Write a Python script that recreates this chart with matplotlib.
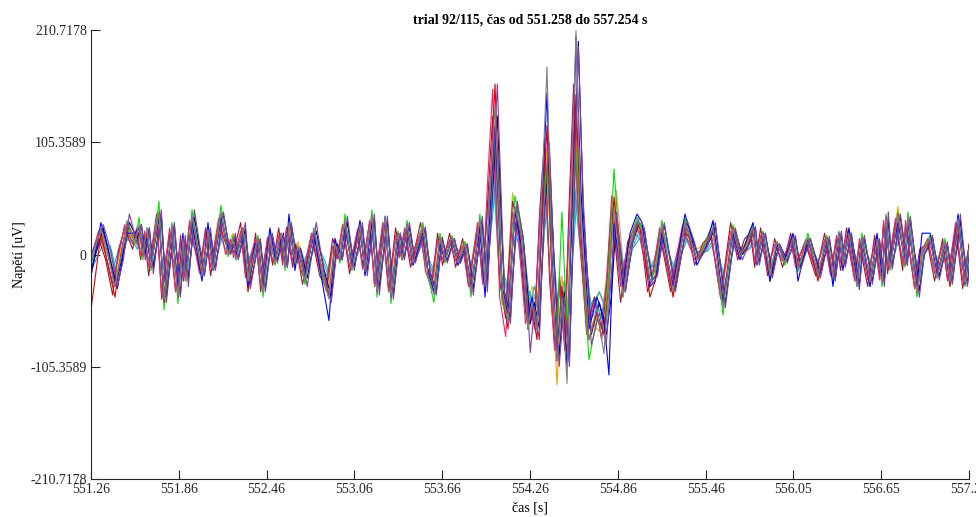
import matplotlib
matplotlib.use("Agg")
import matplotlib.pyplot as plt

# time points (s) at the turning points of the traces
t = [551.258, 551.326, 551.374, 551.422, 551.463, 551.504, 551.558, 551.586, 551.613, 551.640,
     551.668, 551.722, 551.757, 551.811, 551.852, 551.886, 551.907, 551.948, 552.016, 552.057,
     552.091, 552.146, 552.194, 552.228, 552.248, 552.296, 552.330, 552.378, 552.398, 552.433,
     552.480, 552.515, 552.556, 552.583, 552.610, 552.651, 552.672, 552.719, 552.780, 552.836,
     552.883, 552.924, 552.958, 552.993, 553.040, 553.095, 553.129, 553.177, 553.211, 553.266,
     553.307, 553.354, 553.382, 553.416, 553.457, 553.525, 553.559, 553.600, 553.641, 553.675,
     553.723, 553.764, 553.812, 553.853, 553.914, 553.949, 553.983, 554.017, 554.065, 554.106,
     554.153, 554.194, 554.242, 554.270, 554.304, 554.338, 554.372, 554.406, 554.440, 554.474,
     554.509, 554.536, 554.570, 554.604, 554.659, 554.713, 554.761, 554.795, 554.830, 554.891,
     554.939, 554.987, 555.021, 555.075, 555.110, 555.157, 555.233, 555.314, 555.362, 555.396,
     555.451, 555.506, 555.574, 555.642, 555.690, 555.738, 555.779, 555.806, 555.847, 555.895,
     555.943, 555.997, 556.052, 556.086, 556.154, 556.223, 556.284, 556.325, 556.366, 556.393,
     556.434, 556.489, 556.523, 556.578, 556.626, 556.660, 556.687, 556.714, 556.769, 556.817,
     556.837, 556.899, 556.933, 556.988, 557.035, 557.090, 557.124, 557.179, 557.227, 557.254]

# channels that turn a little earlier
t_early = [551.242, 551.310, 551.358, 551.406, 551.447, 551.488, 551.542, 551.570, 551.597, 551.624,
           551.652, 551.706, 551.741, 551.795, 551.836, 551.870, 551.891, 551.932, 552.000, 552.041,
           552.075, 552.130, 552.178, 552.212, 552.232, 552.280, 552.314, 552.362, 552.382, 552.417,
           552.464, 552.499, 552.540, 552.567, 552.594, 552.635, 552.656, 552.703, 552.764, 552.820,
           552.867, 552.908, 552.942, 552.977, 553.024, 553.079, 553.113, 553.161, 553.195, 553.250,
           553.291, 553.338, 553.366, 553.400, 553.441, 553.509, 553.543, 553.584, 553.625, 553.659,
           553.707, 553.748, 553.796, 553.837, 553.898, 553.933, 553.967, 554.001, 554.049, 554.090,
           554.137, 554.178, 554.226, 554.254, 554.288, 554.322, 554.356, 554.390, 554.424, 554.458,
           554.493, 554.520, 554.554, 554.588, 554.643, 554.697, 554.745, 554.779, 554.814, 554.875,
           554.923, 554.971, 555.005, 555.059, 555.094, 555.141, 555.217, 555.298, 555.346, 555.380,
           555.435, 555.490, 555.558, 555.626, 555.674, 555.722, 555.763, 555.790, 555.831, 555.879,
           555.927, 555.981, 556.036, 556.070, 556.138, 556.207, 556.268, 556.309, 556.350, 556.377,
           556.418, 556.473, 556.507, 556.562, 556.610, 556.644, 556.671, 556.698, 556.753, 556.801,
           556.821, 556.883, 556.917, 556.972, 557.019, 557.074, 557.108, 557.163, 557.211, 557.254]

# channels that turn a little later
t_late = [551.258, 551.342, 551.390, 551.438, 551.479, 551.520, 551.574, 551.602, 551.629, 551.656,
          551.684, 551.738, 551.773, 551.827, 551.868, 551.902, 551.923, 551.964, 552.032, 552.073,
          552.107, 552.162, 552.210, 552.244, 552.264, 552.312, 552.346, 552.394, 552.414, 552.449,
          552.496, 552.531, 552.572, 552.599, 552.626, 552.667, 552.688, 552.735, 552.796, 552.852,
          552.899, 552.940, 552.974, 553.009, 553.056, 553.111, 553.145, 553.193, 553.227, 553.282,
          553.323, 553.370, 553.398, 553.432, 553.473, 553.541, 553.575, 553.616, 553.657, 553.691,
          553.739, 553.780, 553.828, 553.869, 553.930, 553.965, 553.999, 554.033, 554.081, 554.122,
          554.169, 554.210, 554.258, 554.286, 554.320, 554.354, 554.388, 554.422, 554.456, 554.490,
          554.525, 554.552, 554.586, 554.620, 554.675, 554.729, 554.777, 554.811, 554.846, 554.907,
          554.955, 555.003, 555.037, 555.091, 555.126, 555.173, 555.249, 555.330, 555.378, 555.412,
          555.467, 555.522, 555.590, 555.658, 555.706, 555.754, 555.795, 555.822, 555.863, 555.911,
          555.959, 556.013, 556.068, 556.102, 556.170, 556.239, 556.300, 556.341, 556.382, 556.409,
          556.450, 556.505, 556.539, 556.594, 556.642, 556.676, 556.703, 556.730, 556.785, 556.833,
          556.853, 556.915, 556.949, 557.004, 557.051, 557.106, 557.140, 557.195, 557.243, 557.270]

# channel voltages (uV)
ch_blue = [-20, 30, 5, -30, -8, 20, 20, 25, 5, 15,
           -10, 35, -40, 25, -30, 20, -20, 30, -25, 30,
           -15, 35, 5, 10, 0, 20, -30, 10, 10, -30,
           25, -5, 15, -10, 38, -15, 5, -20, 20, -25,
           -62, 15, -5, 25, -10, 32, -20, 30, -30, 35,
           -40, 15, 0, 25, -10, 20, -15, -35, 10, -5,
           15, -10, 5, -30, 25, -40, 40, 120, -30, -55,
           40, 10, -60, -40, -70, 50, 152, 0, -95, -40,
           -105, 10, 205, 60, -70, -40, -60, -113, 29, -30,
           20, 38, 30, -30, -25, 20, -30, 38, 15, -10,
           5, 32, -45, 20, -5, 15, 30, -10, 20, -25,
           10, -5, 20, -25, 15, -20, 15, -30, 20, -15,
           25, -25, 15, -30, 20, -20, 30, -10, 30, -5,
           30, -30, 20, 20, -20, 10, -25, 38, -28, 0]

ch_red = [-52, 20, -10, -40, 0, 30, 15, 25, 0, 20,
          -12, 40, -45, 25, -40, 12, -20, 35, -18, 20,
          -12, 38, 2, 15, -2, 25, -35, 5, 15, -30,
          18, -5, 20, -10, 30, -5, 5, -22, 22, -15,
          -40, 5, -5, 30, -12, 25, -15, 35, -35, 32,
          -40, 20, -5, 28, -5, 25, -18, -35, 15, -5,
          15, -5, 8, -35, 30, -30, 60, 160, -30, -70,
          45, 15, -70, -50, -80, 30, 121, -20, -100, -30,
          -95, 20, 150, 20, -80, -55, -75, -30, 54, -35,
          5, 30, 20, -40, -25, 25, -40, 30, 10, -5,
          5, 25, -45, 25, 0, 5, 25, -5, 20, -25,
          10, -5, 15, -12, 15, -25, 15, -22, 20, -10,
          20, -28, 15, -25, 12, -25, 35, -12, 38, -10,
          32, -35, 0, 15, -20, 10, -30, 30, -28, 10]

ch_green = [-10, 25, 0, -30, 0, 30, 10, 35, -5, 25,
            -15, 50, -52, 30, -46, 15, -25, 42, -20, 22,
            -15, 46, -2, 18, -5, 25, -22, 5, 18, -40,
            22, -10, 20, -15, 32, -10, 8, -28, 25, -20,
            -40, 12, -8, 38, -15, 30, -18, 42, -40, 36,
            -46, 22, -5, 32, -10, 30, -20, -45, 20, -8,
            18, -10, 12, -40, 38, -30, 55, 113, -45, -60,
            55, 25, -70, -40, -65, 35, 85, -20, -80, 40,
            -70, 10, 100, 20, -99, -60, -70, -15, 80, -40,
            10, 35, 25, -25, -15, 32, -38, 34, 10, -5,
            10, 30, -57, 28, 0, 12, 28, -8, 22, -20,
            12, -10, 18, -16, 20, -22, 18, -26, 22, -10,
            22, -30, 20, -30, 15, -30, 38, -15, 40, -12,
            40, -40, 0, 18, -22, 15, -30, 36, -30, 5]

ch_purple = [0, 28, 5, -30, -5, 38, 10, 28, -5, 25,
             -18, 42, -45, 30, -40, 18, -30, 42, -20, 25,
             -15, 40, 0, 20, -5, 30, -32, 5, 15, -35,
             20, -8, 18, -12, 30, -8, 5, -30, 30, -20,
             -45, 8, -5, 36, -15, 30, -20, 38, -38, 36,
             -42, 20, -5, 30, -8, 26, -18, -38, 15, -8,
             15, -8, 10, -38, 36, -35, 65, 160, -35, -65,
             50, 15, -92, -50, -80, 45, 105, -15, -105, -40,
             -105, 30, 195, 50, -85, -55, -85, -20, 40, -35,
             10, 35, 25, -28, -20, 30, -35, 32, 12, -5,
             8, 30, -50, 25, -5, 10, 25, -10, 20, -22,
             10, -8, 18, -15, 15, -22, 17, -25, 22, -12,
             20, -33, 18, -28, 15, -30, 40, -14, 38, -10,
             36, -40, 0, 18, -24, 12, -28, 38, -30, 0]

ch_gray = [-8, 25, 0, -30, -2, 32, 12, 28, 0, 25,
           -12, 40, -42, 28, -40, 15, -25, 36, -20, 22,
           -15, 40, 0, 15, -5, 25, -25, 5, 15, -35,
           18, -8, 20, -12, 30, -8, 8, -24, 24, -16,
           -42, 10, -5, 32, -14, 28, -16, 38, -36, 36,
           -40, 20, -5, 28, -8, 26, -18, -38, 16, -6,
           16, -8, 10, -36, 34, -30, 58, 140, -32, -65,
           45, 20, -70, -45, -72, 60, 176, -10, -100, -40,
           -121, 40, 210, 30, -80, -50, -93, -30, 45, -40,
           8, 32, 22, -25, -20, 28, -35, 30, 10, -5,
           8, 26, -50, 24, -2, 10, 26, -8, 20, -20,
           12, -8, 16, -14, 16, -20, 16, -22, 20, -10,
           20, -30, 16, -26, 14, -28, 36, -14, 38, -10,
           35, -36, 0, 16, -22, 12, -26, 34, -28, 5]

ch_orange = [-5, 18, 0, -25, 0, 25, 10, 20, -2, 20,
             -10, 30, -35, 22, -30, 12, -20, 28, -15, 18,
             -12, 30, 2, 15, -2, 20, -18, 8, 12, -28,
             15, -5, 16, -10, 25, -5, 8, -18, 20, -12,
             -30, 8, -3, 25, -10, 22, -12, 28, -28, 28,
             -32, 16, -3, 22, -5, 20, -14, -28, 14, -5,
             12, -6, 8, -28, 26, -25, 50, 120, -40, -55,
             40, 20, -60, -40, -65, 30, 100, -20, -122, -40,
             -80, 30, 128, 20, -60, -70, -75, -25, 50, -30,
             10, 28, 20, -20, -15, 22, -28, 26, 8, -5,
             6, 22, -40, 20, 0, 8, 22, -6, 18, -15,
             10, -6, 14, -10, 14, -16, 14, -18, 16, -8,
             18, -22, 14, -22, 12, -22, 30, -10, 42, -8,
             30, -30, 0, 14, -18, 10, -22, 30, -24, 5]

ch_cyan = [-5, 15, 5, -15, 5, 15, 12, 15, 5, 12,
           -5, 20, -20, 15, -18, 10, -10, 20, -10, 15,
           -5, 20, 5, 10, 2, 15, -12, 5, 10, -18,
           12, 0, 12, -5, 18, 0, 5, -12, 15, -8,
           -20, 8, 0, 18, -5, 15, -8, 20, -20, 20,
           -22, 12, 0, 15, -2, 15, -10, -20, 10, 0,
           10, 0, 5, -20, 20, -18, 40, 90, -25, -45,
           30, 10, -50, -35, -55, 25, 70, -15, -70, -35,
           -60, 10, 72, 20, -55, -40, -60, -30, 40, -25,
           8, 20, 15, -15, -10, 15, -20, 20, 8, 0,
           5, 15, -30, 15, 0, 8, 15, -5, 12, -10,
           8, -5, 10, -8, 10, -12, 10, -14, 12, -5,
           12, -15, 10, -15, 8, -15, 22, -8, 22, -5,
           20, -20, 0, 10, -12, 8, -15, 20, -15, 5]

ch_magenta = [-10, 22, 0, -28, 0, 28, 10, 25, -2, 22,
              -12, 35, -38, 25, -35, 14, -22, 32, -18, 20,
              -12, 34, 0, 14, -3, 22, -22, 5, 14, -30,
              16, -6, 18, -10, 26, -6, 6, -20, 20, -14,
              -35, 8, -4, 28, -12, 24, -14, 32, -30, 30,
              -35, 18, -3, 25, -6, 22, -16, -32, 14, -5,
              14, -6, 8, -30, 30, -28, 70, 155, -40, -77,
              40, 15, -65, -45, -70, 35, 90, -15, -90, -30,
              -85, 20, 140, 30, -75, -45, -70, -25, 55, -30,
              8, 28, 20, -22, -18, 25, -30, 28, 8, -5,
              6, 24, -42, 22, 0, 8, 24, -6, 18, -16,
              10, -6, 15, -12, 14, -16, 14, -20, 18, -8,
              18, -25, 15, -24, 12, -24, 32, -12, 34, -8,
              32, -32, 0, 15, -18, 10, -24, 30, -25, 5]

ch_navy = [-15, 25, -5, -32, 0, 30, 15, 28, 0, 25,
           -12, 38, -40, 28, -38, 15, -24, 35, -20, 22,
           -14, 38, 0, 16, -4, 24, -28, 5, 14, -32,
           18, -6, 20, -12, 28, -6, 6, -22, 22, -16,
           -40, 10, -5, 30, -12, 26, -16, 34, -32, 32,
           -38, 20, -4, 26, -6, 24, -18, -34, 16, -6,
           15, -8, 10, -32, 30, -28, 55, 130, -35, -60,
           45, 15, -65, -45, -70, 40, 95, -10, -95, -35,
           -100, 25, 200, 40, -75, -45, -75, -40, 35, -35,
           10, 30, 22, -24, -18, 28, -32, 30, 10, -5,
           8, 26, -45, 22, 0, 10, 26, -8, 20, -18,
           10, -6, 16, -12, 15, -18, 15, -22, 20, -10,
           20, -28, 16, -25, 14, -26, 34, -12, 36, -10,
           34, -34, 0, 16, -20, 10, -26, 32, -28, 5]

ch_salmon = [-8, 18, 0, -22, 0, 22, 10, 20, 0, 18,
             -8, 28, -30, 20, -28, 10, -18, 26, -14, 16,
             -10, 26, 0, 12, -2, 18, -16, 6, 10, -25,
             14, -4, 14, -8, 22, -4, 6, -16, 16, -10,
             -28, 6, -3, 22, -8, 20, -10, 26, -25, 24,
             -28, 14, -2, 20, -4, 18, -12, -26, 12, -4,
             11, -4, 6, -24, 24, -20, 45, 100, -25, -45,
             35, 15, -50, -30, -50, 25, 80, -5, -70, -25,
             -70, 15, 110, 20, -55, -35, -55, -20, 60, -30,
             6, 22, 16, -18, -14, 20, -24, 22, 6, -4,
             5, 18, -35, 18, 0, 6, 18, -5, 15, -14,
             8, -5, 12, -10, 11, -14, 11, -16, 15, -6,
             15, -20, 12, -20, 10, -20, 26, -10, 28, -6,
             26, -26, 0, 12, -15, 8, -20, 25, -20, 5]

ch_olive = [-12, 22, 0, -25, 0, 25, 12, 22, 0, 20,
            -10, 32, -35, 22, -32, 12, -20, 30, -16, 18,
            -12, 30, 0, 14, -3, 20, -20, 5, 12, -28,
            15, -6, 16, -10, 25, -6, 6, -18, 18, -12,
            -32, 8, -4, 26, -10, 22, -14, 30, -28, 28,
            -32, 16, -3, 22, -5, 20, -14, -30, 14, -4,
            12, -6, 8, -28, 28, -24, 48, 90, -28, -50,
            58, 20, -60, -35, -60, 30, 95, -10, -80, -30,
            -80, 25, 120, 25, -65, -40, -60, -20, 45, -28,
            8, 26, 18, -20, -16, 22, -26, 24, 8, -4,
            6, 20, -38, 20, 0, 8, 20, -6, 16, -14,
            8, -6, 14, -10, 12, -15, 12, -18, 16, -8,
            16, -22, 14, -22, 12, -22, 28, -10, 30, -8,
            28, -28, 0, 14, -16, 8, -22, 28, -22, 5]

ch_sky = [-3, 20, 3, -20, 3, 22, 8, 18, 2, 16,
          -6, 25, -26, 18, -24, 10, -14, 24, -12, 15,
          -8, 25, 2, 12, 0, 18, -15, 6, 10, -22,
          14, -3, 14, -6, 20, -4, 6, -14, 16, -10,
          -25, 6, -2, 20, -6, 18, -10, 24, -22, 22,
          -26, 14, -2, 18, -4, 16, -10, -24, 12, -3,
          10, -4, 6, -22, 22, -18, 42, 95, -25, -50,
          35, 12, -55, -38, -58, 30, 80, -10, -85, -30,
          -85, 15, 90, 15, -60, -45, -65, -25, 35, -25,
          6, 22, 15, -16, -12, 18, -22, 22, 6, -2,
          5, 16, -32, 16, 0, 6, 16, -5, 14, -12,
          7, -5, 11, -9, 10, -12, 10, -14, 13, -6,
          13, -18, 11, -18, 9, -18, 24, -8, 25, -6,
          23, -24, 0, 11, -13, 8, -18, 23, -18, 5]

ch_darkred = [-30, 15, -5, -38, 5, 25, 5, 22, -5, 18,
              -20, 38, -42, 20, -35, 18, -25, 30, -15, 25,
              -20, 30, 10, 5, 2, 30, -20, 0, 20, -35,
              15, -10, 25, -5, 25, -12, 10, -28, 18, -20,
              -30, 15, 0, 28, -18, 20, -10, 30, -30, 25,
              -35, 25, 0, 20, -12, 30, -5, -30, 20, -10,
              20, -12, 15, -30, 25, -25, 50, 130, -25, -60,
              50, 25, -55, -55, -65, 40, 110, -25, -85, -20,
              -90, 35, 160, 35, -70, -40, -80, -30, 45, -45,
              12, 25, 28, -35, -20, 20, -35, 25, 15, -10,
              10, 20, -40, 30, -5, 15, 20, -12, 25, -20,
              15, -12, 20, -8, 10, -20, 20, -18, 15, -15,
              25, -22, 10, -30, 18, -20, 30, -18, 32, -15,
              28, -32, 5, 10, -25, 15, -25, 25, -32, 8]

ch_teal = [-15, 10, 8, -20, 6, 18, 5, 20, 8, 10,
           -8, 30, -30, 15, -20, 15, -15, 25, -8, 12,
           -8, 22, 5, 8, 5, 15, -18, 10, 5, -20,
           10, 2, 10, -8, 15, 2, 2, -15, 12, -5,
           -22, 5, 5, 15, -8, 12, -5, 20, -18, 18,
           -20, 10, 2, 12, 0, 12, -8, -18, 8, 2,
           8, 2, 2, -15, 18, -12, 35, 80, -20, -40,
           25, 5, -45, -30, -50, 20, 65, -10, -60, -25,
           -55, 5, 75, 10, -50, -35, -50, -25, 30, -20,
           5, 15, 10, -12, -8, 12, -15, 15, 5, 2,
           3, 12, -25, 12, 2, 5, 12, -3, 10, -8,
           6, -3, 8, -6, 8, -10, 8, -10, 10, -3,
           10, -12, 8, -12, 6, -12, 18, -6, 18, -4,
           16, -16, 2, 8, -10, 6, -12, 16, -12, 3]

ch_gold = [0, 15, 8, -18, 5, 20, 15, 12, 8, 15,
           0, 25, -25, 20, -20, 15, -8, 22, -5, 18,
           -5, 25, 10, 20, 5, 20, -10, 12, 15, -15,
           15, 5, 18, 0, 20, 5, 12, -10, 20, -5,
           -20, 15, 5, 22, 0, 20, -5, 25, -15, 25,
           -20, 18, 5, 20, 2, 20, -5, -20, 15, 5,
           15, 2, 12, -15, 28, -15, 45, 100, -20, -50,
           35, 30, -45, -30, -50, 30, 95, -5, -90, -20,
           -70, 40, 140, 35, -55, -60, -70, -15, 50, -20,
           15, 25, 20, -10, -5, 20, -15, 22, 12, 5,
           10, 20, -25, 18, 5, 12, 20, 0, 18, -5,
           12, 0, 15, -5, 15, -8, 15, -10, 18, 0,
           18, -12, 15, -10, 12, -12, 30, -5, 45, -3,
           28, -20, 5, 15, -10, 12, -12, 25, -15, 8]

# drawing order: first drawn lies underneath
traces = [(t_late, ch_salmon, '#E8937A'), (t_early, ch_olive, '#A8C83A'),
          (t_late, ch_teal, '#20B2AA'), (t, ch_gold, '#EDB120'),
          (t_late, ch_sky, '#4DBEEE'), (t_early, ch_cyan, '#00B0F0'),
          (t, ch_orange, '#FF9900'), (t_early, ch_darkred, '#A2142F'),
          (t_early, ch_magenta, '#FF1A75'), (t_late, ch_navy, '#00007F'),
          (t, ch_green, '#00E000'), (t, ch_red, '#DD0000'),
          (t, ch_blue, '#0000FF'), (t_late, ch_purple, '#7E3F9E'),
          (t, ch_gray, '#808080')]

t_start = 551.258
t_end = 557.254
y_lim = 210.7178
x_ticks = [551.258 + i * (t_end - t_start) / 10 for i in range(11)]
y_ticks = [-210.7178, -105.3589, 0, 105.3589, 210.7178]
y_labels = ['-210.7178', '-105.3589', '0', '105.3589', '210.7178']

plt.rcParams['font.family'] = ['Liberation Serif', 'DejaVu Serif']

fig = plt.figure(figsize=(9.76, 5.17), dpi=100)
ax = fig.add_axes([91 / 976, 38 / 517, 878 / 976, 449 / 517])

for tt, data, c in traces:
    ax.plot(tt, data, color=c, linewidth=0.8)

ax.set_xlim(t_start, t_end)
ax.set_ylim(-y_lim, y_lim)
ax.set_xticks(x_ticks)
ax.set_xticklabels(['%.2f' % v for v in x_ticks])
ax.set_yticks(y_ticks)
ax.set_yticklabels(y_labels)
ax.tick_params(direction='in', length=6.5, width=0.8, labelsize=10,
               colors='#262626', pad=3)

ax.spines['top'].set_visible(False)
ax.spines['right'].set_visible(False)
for s in ['left', 'bottom']:
    ax.spines[s].set_linewidth(0.8)
    ax.spines[s].set_color('#262626')

ax.set_xlabel('čas [s]', fontsize=10, labelpad=4)
ax.set_ylabel('Napětí [uV]', fontsize=10, labelpad=3)
ax.set_title('trial 92/115, čas od 551.258 do 557.254 s', fontsize=10,
             fontweight='bold', pad=5)

fig.savefig('out.png', dpi=100)
